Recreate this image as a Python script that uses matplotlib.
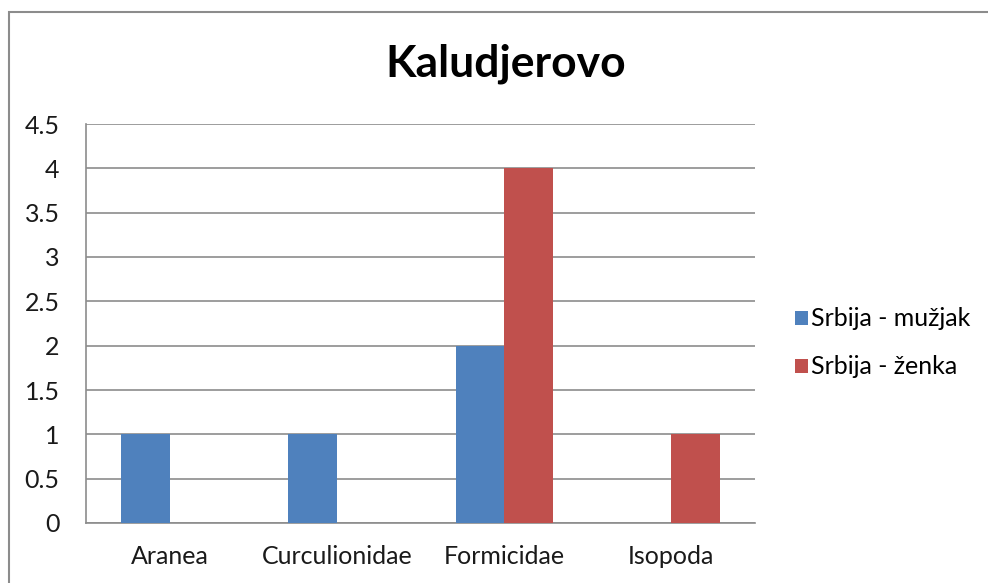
import matplotlib
matplotlib.use("Agg")
import matplotlib.pyplot as plt
import numpy as np
from matplotlib.patches import Rectangle

categories = ["Aranea", "Curculionidae", "Formicidae", "Isopoda"]
male = [1, 1, 2, 0]
female = [0, 0, 4, 1]
series_names = ["Srbija - mužjak", "Srbija - ženka"]
title = "Kaludjerovo"
yticks = [0, 0.5, 1, 1.5, 2, 2.5, 3, 3.5, 4, 4.5]

plt.rcParams['font.family'] = ['Lato', 'DejaVu Sans']

W, H = 988, 583
fig = plt.figure(figsize=(W/100, H/100), dpi=100)
ax = fig.add_axes([86/W, (H-523)/H, (755-86)/W, (523-124)/H])

x = np.arange(len(categories))
bw = 0.29
ax.bar(x - bw/2, male, bw, color="#4F81BD", label=series_names[0], zorder=3)
ax.bar(x + bw/2, female, bw, color="#C0504D", label=series_names[1], zorder=3)

ax.set_xlim(-0.5, len(categories) - 0.5)
ax.set_ylim(0, 4.5)
ax.set_yticks(yticks)
ax.set_yticklabels([f"{v:g}" for v in yticks])
ax.set_xticks(x)
ax.set_xticklabels(categories)
ax.tick_params(axis='both', length=0, labelsize=18, colors='#1a1a1a')
ax.tick_params(axis='y', pad=19)
ax.tick_params(axis='x', pad=16)
ax.grid(axis='y', color='#8c8c8c', linewidth=1.2, zorder=0)
for s in ['top', 'right']:
    ax.spines[s].set_visible(False)
for s in ['left', 'bottom']:
    ax.spines[s].set_color('#8c8c8c')
    ax.spines[s].set_linewidth(1.2)

fig.text(506/W, 1 - 64/H, title, ha='center', va='center', fontsize=32, fontweight='bold', color='black')

leg = fig.legend(loc='center left', bbox_to_anchor=(795/W, 1 - 343/H), frameon=False,
                 fontsize=18, handlelength=0.5, handleheight=0.5, handletextpad=0.12,
                 labelspacing=1.0, borderaxespad=0, borderpad=0)

fig.patches.append(Rectangle((9/W, -0.1), 1.2, (H-12)/H + 0.1, transform=fig.transFigure,
                             fill=False, edgecolor='#8c8c8c', linewidth=1.5))

fig.savefig("out.png", dpi=100)
